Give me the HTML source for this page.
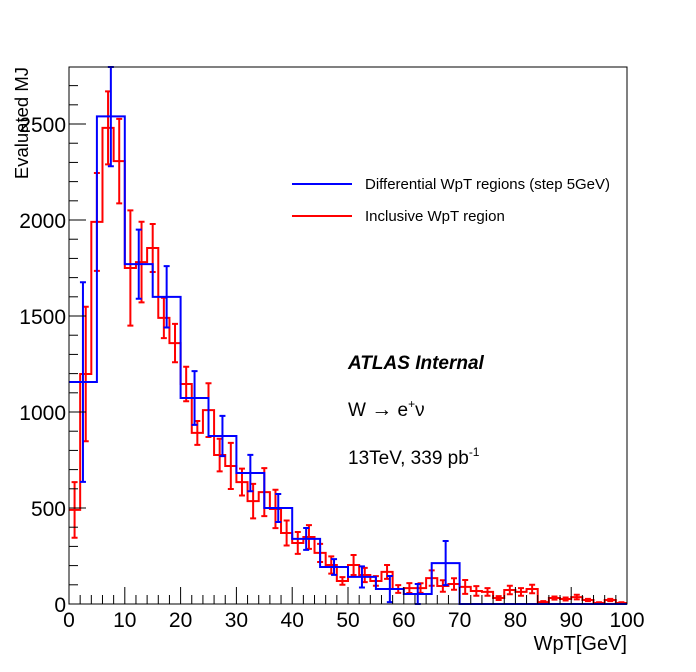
<!DOCTYPE html>
<html><head><meta charset="utf-8"><style>
body{margin:0;background:#fff;}
svg{display:block;font-family:"Liberation Sans",sans-serif;}
</style></head><body>
<svg id="chart" width="696" height="672" xmlns="http://www.w3.org/2000/svg">
<rect x="0" y="0" width="696" height="672" fill="#fff"/>
<g id="marks"></g>
<g id="axes"></g>
<text x="28" y="67" font-size="18.5" text-anchor="end" transform="rotate(-90 28 67)">Evaluated MJ</text>
<text x="627" y="650" font-size="20" text-anchor="end">WpT[GeV]</text>
<line x1="292" y1="184" x2="352" y2="184" stroke="#00f" stroke-width="2"/>
<text x="365" y="189" font-size="15" textLength="245">Differential WpT regions (step 5GeV)</text>
<line x1="292" y1="216" x2="352" y2="216" stroke="#f00" stroke-width="2"/>
<text x="365" y="221" font-size="15">Inclusive WpT region</text>
<text x="348" y="369" font-size="19" font-weight="bold" font-style="italic">ATLAS Internal</text>
<text x="348" y="416" font-size="19">W <tspan font-size="21">→</tspan> e<tspan font-size="12" dy="-8">+</tspan><tspan dy="8">ν</tspan></text>
<text x="348" y="464" font-size="19">13TeV, 339 pb<tspan font-size="12" dy="-8">-1</tspan></text>
</svg>
<script>
const blueVals=[1156,2540,1770,1600,1073,875,682,500,339,193,141,78,52,213,0,0,0,0,0,0];
const blueErrs=[520,260,180,160,140,105,95,73,57,41,55,68,52,115,0,0,0,0,0,0];
const redVals=[490,1198,1990,2480,2307,1750,1781,1854,1490,1359,1146,891,1010,776,719,635,536,583,495,370,318,349,266,203,120,203,151,120,167,78,83,83,135,94,104,89,68,63,31,73,63,78,10,31,26,36,21,5,21,5];
const redErrs=[145,350,255,190,220,300,210,125,105,100,90,62,140,85,120,70,90,125,100,65,57,62,47,45,20,52,37,25,36,20,26,25,40,30,30,36,25,20,10,22,20,22,5,8,8,12,6,4,6,4];
const xTicks=[0,10,20,30,40,50,60,70,80,90,100];
const yTicks=[0,500,1000,1500,2000,2500];
const X0=69,X1=627,Y0=604,Y1=67,XMAX=100,YMAX=2797;
const sx=v=>X0+(v/XMAX)*(X1-X0);
const sy=v=>Math.max(Y1,Y0-(v/YMAX)*(Y0-Y1));
const NS="http://www.w3.org/2000/svg";
const marks=document.getElementById('marks'),axes=document.getElementById('axes');
function mk(tag,attrs,parent){const e=document.createElementNS(NS,tag);for(const k in attrs)e.setAttribute(k,attrs[k]);parent.appendChild(e);return e;}
function drawHist(vals,errs,w,color,name){
  let d='';
  vals.forEach((v,i)=>{const xa=sx(i*w),xb=sx((i+1)*w),y=sy(v);
    d+=(i===0?'M'+xa+','+y:'L'+xa+','+y)+'L'+xb+','+y;});
  const p=mk('path',{d:d,fill:'none',stroke:color,'stroke-width':2},marks);
  
  
  vals.forEach((v,i)=>{if(errs[i]<=0)return;const xc=sx((i+0.5)*w),yt=sy(v+errs[i]),yb=sy(Math.max(0,v-errs[i]));
    const g=mk('path',{d:'M'+xc+','+yt+'L'+xc+','+yb+'M'+(xc-3)+','+yt+'L'+(xc+3)+','+yt+'M'+(xc-3)+','+yb+'L'+(xc+3)+','+yb,stroke:color,'stroke-width':2,fill:'none'},marks);
    
    });
}
drawHist(redVals,redErrs,2,'#f00','inclusive');
drawHist(blueVals,blueErrs,5,'#00f','differential');
const fr=mk('rect',{x:X0,y:Y1,width:X1-X0,height:Y0-Y1,fill:'none',stroke:'#000','stroke-width':1},axes);


for(let v=0;v<=100;v+=2){const major=v%10===0;mk('line',{x1:sx(v),x2:sx(v),y1:Y0,y2:Y0-(major?17:9),stroke:'#000'},axes);}
for(let v=0;v<=2700;v+=100){const major=v%500===0;mk('line',{x1:X0,x2:X0+(major?17:9),y1:sy(v),y2:sy(v),stroke:'#000'},axes);}
xTicks.forEach(v=>{const t=mk('text',{x:sx(v),y:627,'font-size':21,'text-anchor':'middle'},axes);t.textContent=v;
  
  });
yTicks.forEach(v=>{const t=mk('text',{x:66,y:sy(v)+8,'font-size':21,'text-anchor':'end'},axes);t.textContent=v;
  
  });
</script>
</body></html>
